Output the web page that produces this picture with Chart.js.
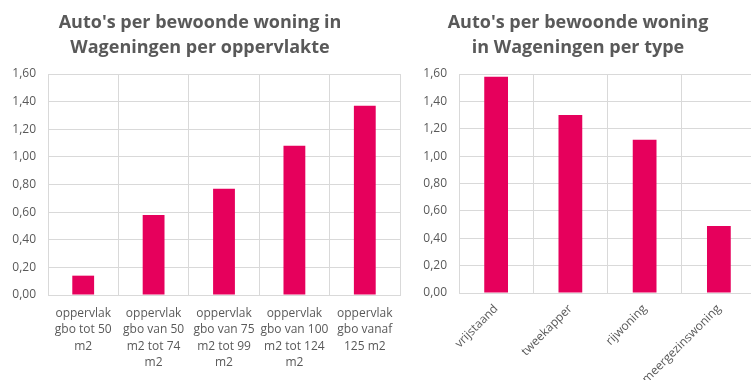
<!DOCTYPE html>
<html>
<head>
<meta charset="utf-8">
<script src="https://cdn.jsdelivr.net/npm/chart.js@4.4.0/dist/chart.umd.min.js"></script>
<style>
  html, body { margin: 0; padding: 0; background: #fff; overflow: hidden; width: 751px; height: 380px; }
  #leftChart { position: absolute; left: 0; top: 0; }
  #rightChart { position: absolute; left: 400px; top: 0; }
</style>
</head>
<body>
<canvas id="leftChart" width="420" height="380"></canvas>
<canvas id="rightChart" width="384" height="380"></canvas>
<script>
const areaLabels = [
    ['oppervlak', 'gbo tot 50', 'm2'],
    ['oppervlak', 'gbo van 50', 'm2 tot 74', 'm2'],
    ['oppervlak', 'gbo van 75', 'm2 tot 99', 'm2'],
    ['oppervlak', 'gbo van 100', 'm2 tot 124', 'm2'],
    ['oppervlak', 'gbo vanaf', '125 m2']
];
const areaValues = [0.14, 0.58, 0.77, 1.08, 1.37];

const typeLabels = ['vrijstaand', 'tweekapper', 'rijwoning', 'meergezinswoning'];
const typeValues = [1.58, 1.30, 1.12, 0.49];

const leftTitle = ["Auto's per bewoonde woning in", 'Wageningen per oppervlakte'];
const rightTitle = ["Auto's per bewoonde woning", 'in Wageningen per type'];

const barColor = '#E6005C';
const gridColor = '#D9D9D9';
const textColor = '#595959';
const tickFont = { family: 'Open Sans', size: 12 };

function makeChart(id, labels, values, title, opts) {
    const ctx = document.getElementById(id).getContext('2d');
    return new Chart(ctx, {
        type: 'bar',
        data: {
            labels: labels,
            datasets: [{
                data: values,
                backgroundColor: barColor,
                borderWidth: 0,
                barPercentage: opts.barPct,
                categoryPercentage: 1
            }]
        },
        options: {
            responsive: false,
            animation: false,
            layout: { padding: { top: 0, left: 0, right: opts.padRight, bottom: 0 } },
            plugins: {
                legend: { display: false },
                tooltip: { enabled: false },
                title: {
                    display: true,
                    text: title,
                    color: textColor,
                    font: { family: 'Open Sans', size: 18, weight: 'bold', lineHeight: 1.39 },
                    padding: { top: 10, bottom: 14 }
                }
            },
            scales: {
                x: {
                    grid: { color: gridColor, drawTicks: false, offset: true },
                    border: { color: gridColor },
                    ticks: {
                        color: textColor,
                        font: { family: 'Open Sans', size: 12, lineHeight: 1.375 },
                        padding: opts.xPad,
                        autoSkip: false,
                        maxRotation: opts.rotation,
                        minRotation: opts.rotation
                    },
                    afterFit: (scale) => { scale.height = opts.xHeight; }
                },
                y: {
                    min: 0,
                    max: 1.6,
                    grid: { color: gridColor, drawTicks: false },
                    border: { color: gridColor },
                    ticks: {
                        stepSize: 0.2,
                        color: textColor,
                        font: tickFont,
                        padding: 12,
                        callback: (v) => v.toFixed(2).replace('.', ',')
                    },
                    afterFit: (scale) => { scale.width = opts.yWidth; }
                }
            }
        }
    });
}

makeChart('leftChart', areaLabels, areaValues, leftTitle,
    { barPct: 0.31, padRight: 20, xHeight: 85, yWidth: 48, xPad: 10, rotation: 0 });
makeChart('rightChart', typeLabels, typeValues, rightTitle,
    { barPct: 0.32, padRight: 28, xHeight: 87, yWidth: 59, xPad: 8, rotation: 45 });
</script>
</body>
</html>
